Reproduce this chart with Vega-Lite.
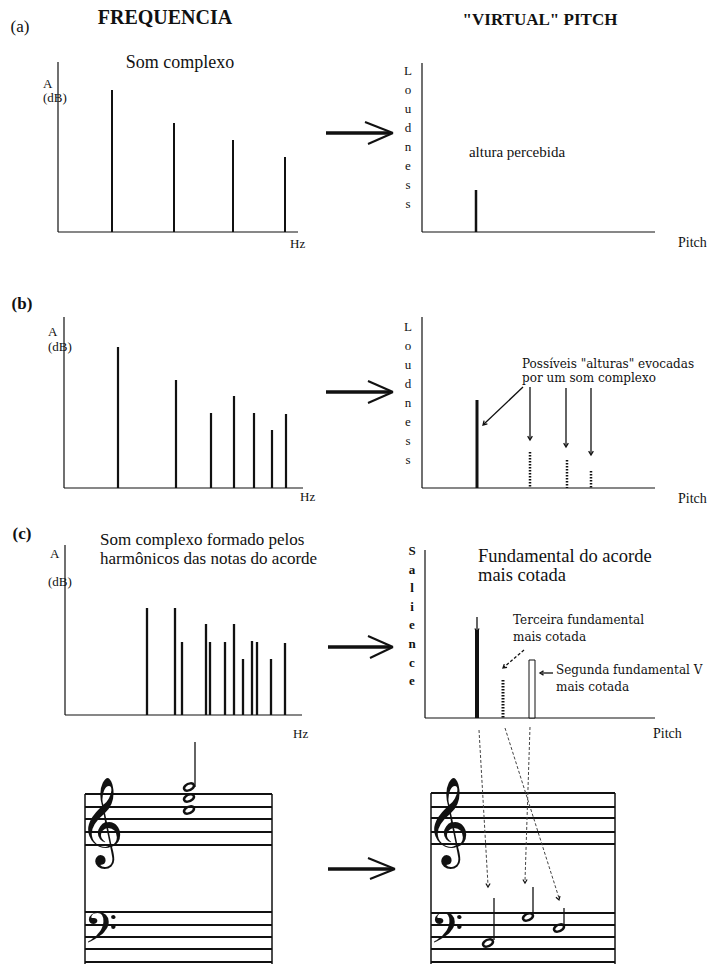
{
"$schema": "https://vega.github.io/schema/vega-lite/v6.json",
"background": "white",
"padding": 0,
"spacing": 0,
"columns": 2,
"align": "each",
"bounds": "flush",
"config": {"view": {"stroke": null}, "text": {"font": "Liberation Serif", "color": "#111"}, "rule": {"color": "#111"}, "point": {"color": "#111"}},
"concat": [
 {"width": 355, "height": 250,
  "data": {"values": [
   {"role":"axis","f":0,"a":0,"f2":0,"a2":170},
   {"role":"axis","f":0,"a":0,"f2":240,"a2":0},
   {"role":"partial","f":54,"a":142},
   {"role":"partial","f":116,"a":109},
   {"role":"partial","f":175,"a":92},
   {"role":"partial","f":227,"a":75},
   {"role":"arrow","f":268,"a":99,"f2":333,"a2":99},
   {"role":"arrowhead","f":307,"a":110,"f2":335,"a2":99},
   {"role":"arrowhead","f":310,"a":88,"f2":335,"a2":99},
   {"role":"heading","f":107,"a":214,"label":"FREQUENCIA"},
   {"role":"tag","f":-38,"a":205,"label":"(a)"},
   {"role":"caption","f":122,"a":169,"label":"Som complexo"},
   {"role":"label","f":-15,"a":148,"label":"A"},
   {"role":"label","f":-15,"a":134,"label":"(dB)"},
   {"role":"label","f":232,"a":-12,"label":"Hz"}
  ]},
  "encoding": {
   "x": {"field":"f","type":"quantitative","scale":{"domain":[-58,297],"nice":false,"zero":false},"axis":null},
   "y": {"field":"a","type":"quantitative","scale":{"domain":[-18,232],"nice":false,"zero":false},"axis":null}
  },
  "layer": [
   {"transform":[{"filter":"datum.role=='axis'"}],"mark":{"type":"rule","strokeWidth":1.2},"encoding":{"x2":{"field":"f2"},"y2":{"field":"a2"}}},
   {"transform":[{"filter":"datum.role=='partial'"}],"mark":{"type":"rule","strokeWidth":2},"encoding":{"y2":{"datum":0}}},
   {"transform":[{"filter":"datum.role=='arrow'"}],"mark":{"type":"rule","strokeWidth":3.5},"encoding":{"x2":{"field":"f2"},"y2":{"field":"a2"}}},
   {"transform":[{"filter":"datum.role=='arrowhead'"}],"mark":{"type":"rule","strokeWidth":2},"encoding":{"x2":{"field":"f2"},"y2":{"field":"a2"}}},
   {"transform":[{"filter":"datum.role=='heading'"}],"mark":{"type":"text","fontSize":20,"fontWeight":"bold"},"encoding":{"text":{"field":"label"}}},
   {"transform":[{"filter":"datum.role=='tag'"}],"mark":{"type":"text","fontSize":17},"encoding":{"text":{"field":"label"}}},
   {"transform":[{"filter":"datum.role=='caption'"}],"mark":{"type":"text","fontSize":18},"encoding":{"text":{"field":"label"}}},
   {"transform":[{"filter":"datum.role=='label'"}],"mark":{"type":"text","fontSize":13,"align":"left"},"encoding":{"text":{"field":"label"}}}
  ]
 },
 {"width": 356, "height": 250,
  "data": {"values": [
   {"role":"axis","f":0,"a":0,"f2":0,"a2":169},
   {"role":"axis","f":0,"a":0,"f2":233,"a2":0},
   {"role":"pitch","f":54,"a":42},
   {"role":"heading","f":118,"a":212,"label":"\"VIRTUAL\" PITCH"},
   {"role":"yname","f":-14,"a":167,"label":"L\no\nu\nd\nn\ne\ns\ns"},
   {"role":"caption","f":95,"a":80,"label":"altura percebida"},
   {"role":"label","f":256,"a":-11,"label":"Pitch"}
  ]},
  "encoding": {
   "x": {"field":"f","type":"quantitative","scale":{"domain":[-67,289],"nice":false,"zero":false},"axis":null},
   "y": {"field":"a","type":"quantitative","scale":{"domain":[-18,232],"nice":false,"zero":false},"axis":null}
  },
  "layer": [
   {"transform":[{"filter":"datum.role=='axis'"}],"mark":{"type":"rule","strokeWidth":1.2},"encoding":{"x2":{"field":"f2"},"y2":{"field":"a2"}}},
   {"transform":[{"filter":"datum.role=='pitch'"}],"mark":{"type":"rule","strokeWidth":2.5},"encoding":{"y2":{"datum":0}}},
   {"transform":[{"filter":"datum.role=='heading'"}],"mark":{"type":"text","fontSize":17,"fontWeight":"bold"},"encoding":{"text":{"field":"label"}}},
   {"transform":[{"filter":"datum.role=='yname'"}],"mark":{"type":"text","fontSize":13,"baseline":"top","lineBreak":"\n","lineHeight":19},"encoding":{"text":{"field":"label"}}},
   {"transform":[{"filter":"datum.role=='caption'"}],"mark":{"type":"text","fontSize":15},"encoding":{"text":{"field":"label"}}},
   {"transform":[{"filter":"datum.role=='label'"}],"mark":{"type":"text","fontSize":14,"align":"left"},"encoding":{"text":{"field":"label"}}}
  ]
 },
 {"width": 355, "height": 255,
  "data": {"values": [
   {"role":"axis","f":0,"a":0,"f2":0,"a2":171},
   {"role":"axis","f":0,"a":0,"f2":239,"a2":0},
   {"role":"partial","f":54,"a":141},
   {"role":"partial","f":112,"a":108},
   {"role":"partial","f":147,"a":75},
   {"role":"partial","f":170,"a":92},
   {"role":"partial","f":190,"a":75},
   {"role":"partial","f":208,"a":58},
   {"role":"partial","f":222,"a":74},
   {"role":"arrow","f":262,"a":96,"f2":327,"a2":96},
   {"role":"arrowhead","f":304,"a":107,"f2":329,"a2":96},
   {"role":"arrowhead","f":304,"a":85,"f2":329,"a2":96},
   {"role":"tag","f":-42,"a":184,"label":"(b)"},
   {"role":"label","f":-16,"a":156,"label":"A"},
   {"role":"label","f":-16,"a":141,"label":"(dB)"},
   {"role":"label","f":236,"a":-9,"label":"Hz"}
  ]},
  "encoding": {
   "x": {"field":"f","type":"quantitative","scale":{"domain":[-64,291],"nice":false,"zero":false},"axis":null},
   "y": {"field":"a","type":"quantitative","scale":{"domain":[-17,238],"nice":false,"zero":false},"axis":null}
  },
  "layer": [
   {"transform":[{"filter":"datum.role=='axis'"}],"mark":{"type":"rule","strokeWidth":1.2},"encoding":{"x2":{"field":"f2"},"y2":{"field":"a2"}}},
   {"transform":[{"filter":"datum.role=='partial'"}],"mark":{"type":"rule","strokeWidth":2.2},"encoding":{"y2":{"datum":0}}},
   {"transform":[{"filter":"datum.role=='arrow'"}],"mark":{"type":"rule","strokeWidth":3.5},"encoding":{"x2":{"field":"f2"},"y2":{"field":"a2"}}},
   {"transform":[{"filter":"datum.role=='arrowhead'"}],"mark":{"type":"rule","strokeWidth":2},"encoding":{"x2":{"field":"f2"},"y2":{"field":"a2"}}},
   {"transform":[{"filter":"datum.role=='tag'"}],"mark":{"type":"text","fontSize":17,"fontWeight":"bold"},"encoding":{"text":{"field":"label"}}},
   {"transform":[{"filter":"datum.role=='label'"}],"mark":{"type":"text","fontSize":13,"align":"left"},"encoding":{"text":{"field":"label"}}}
  ]
 },
 {"width": 356, "height": 255,
  "data": {"values": [
   {"role":"axis","f":0,"a":0,"f2":0,"a2":171},
   {"role":"axis","f":0,"a":0,"f2":233,"a2":0},
   {"role":"pitch","f":55,"a":88},
   {"role":"candidate","f":108,"a":36},
   {"role":"candidate","f":145,"a":28},
   {"role":"candidate","f":169,"a":17},
   {"role":"pointer","f":101,"a":101,"f2":62,"a2":64},
   {"role":"pointer","f":108,"a":101,"f2":108,"a2":49},
   {"role":"pointer","f":144,"a":100,"f2":144,"a2":42},
   {"role":"pointer","f":169,"a":100,"f2":169,"a2":34},
   {"role":"tipdown","f":108,"a":48},
   {"role":"tipdown","f":144,"a":41},
   {"role":"tipdown","f":169,"a":33},
   {"role":"tipdiag","f":61,"a":63},
   {"role":"yname","f":-14,"a":167,"label":"L\no\nu\nd\nn\ne\ns\ns"},
   {"role":"note","f":100,"a":129,"label":"Possíveis \"alturas\" evocadas\npor um som complexo"},
   {"role":"label","f":256,"a":-11,"label":"Pitch"}
  ]},
  "encoding": {
   "x": {"field":"f","type":"quantitative","scale":{"domain":[-67,289],"nice":false,"zero":false},"axis":null},
   "y": {"field":"a","type":"quantitative","scale":{"domain":[-17,238],"nice":false,"zero":false},"axis":null}
  },
  "layer": [
   {"transform":[{"filter":"datum.role=='axis'"}],"mark":{"type":"rule","strokeWidth":1.2},"encoding":{"x2":{"field":"f2"},"y2":{"field":"a2"}}},
   {"transform":[{"filter":"datum.role=='pitch'"}],"mark":{"type":"rule","strokeWidth":3},"encoding":{"y2":{"datum":0}}},
   {"transform":[{"filter":"datum.role=='candidate'"}],"mark":{"type":"rule","strokeWidth":2.5,"strokeDash":[1.5,1.5]},"encoding":{"y2":{"datum":0}}},
   {"transform":[{"filter":"datum.role=='pointer'"}],"mark":{"type":"rule","strokeWidth":1.3},"encoding":{"x2":{"field":"f2"},"y2":{"field":"a2"}}},
   {"transform":[{"filter":"datum.role=='tipdown'"}],"mark":{"type":"point","shape":"M -0.6 -1 L 0 0 L 0.6 -1","filled":false,"size":60,"strokeWidth":1.3,"opacity":1}},
   {"transform":[{"filter":"datum.role=='tipdiag'"}],"mark":{"type":"point","shape":"M -0.6 -1 L 0 0 L 0.6 -1","filled":false,"size":60,"strokeWidth":1.3,"opacity":1,"angle":45}},
   {"transform":[{"filter":"datum.role=='yname'"}],"mark":{"type":"text","fontSize":13,"baseline":"top","lineBreak":"\n","lineHeight":19},"encoding":{"text":{"field":"label"}}},
   {"transform":[{"filter":"datum.role=='note'"}],"mark":{"type":"text","font":"DejaVu Serif","fontSize":12,"align":"left","baseline":"top","lineBreak":"\n","lineHeight":14},"encoding":{"text":{"field":"label"}}},
   {"transform":[{"filter":"datum.role=='label'"}],"mark":{"type":"text","fontSize":14,"align":"left"},"encoding":{"text":{"field":"label"}}}
  ]
 },
 {"width": 355, "height": 240,
  "data": {"values": [
   {"role":"axis","f":0,"a":0,"f2":0,"a2":170},
   {"role":"axis","f":0,"a":0,"f2":237,"a2":0},
   {"role":"partial","f":82,"a":107},
   {"role":"partial","f":110,"a":107},
   {"role":"partial","f":117,"a":73},
   {"role":"partial","f":141,"a":91},
   {"role":"partial","f":145,"a":73},
   {"role":"partial","f":160,"a":73},
   {"role":"partial","f":169,"a":91},
   {"role":"partial","f":178,"a":56},
   {"role":"partial","f":187,"a":74},
   {"role":"partial","f":192,"a":73},
   {"role":"partial","f":206,"a":56},
   {"role":"partial","f":220,"a":72},
   {"role":"arrow","f":263,"a":68,"f2":326,"a2":68},
   {"role":"arrowhead","f":303,"a":79,"f2":328,"a2":68},
   {"role":"arrowhead","f":305,"a":57,"f2":328,"a2":68},
   {"role":"tag","f":-43,"a":181,"label":"(c)"},
   {"role":"label","f":-15,"a":161,"label":"A"},
   {"role":"label","f":-17,"a":133,"label":"(dB)"},
   {"role":"label","f":228,"a":-19,"label":"Hz"},
   {"role":"caption","f":35,"a":183,"label":"Som complexo formado pelos\nharmônicos das notas do acorde"}
  ]},
  "encoding": {
   "x": {"field":"f","type":"quantitative","scale":{"domain":[-65,290],"nice":false,"zero":false},"axis":null},
   "y": {"field":"a","type":"quantitative","scale":{"domain":[-30,210],"nice":false,"zero":false},"axis":null}
  },
  "layer": [
   {"transform":[{"filter":"datum.role=='axis'"}],"mark":{"type":"rule","strokeWidth":1.2},"encoding":{"x2":{"field":"f2"},"y2":{"field":"a2"}}},
   {"transform":[{"filter":"datum.role=='partial'"}],"mark":{"type":"rule","strokeWidth":2.3},"encoding":{"y2":{"datum":0}}},
   {"transform":[{"filter":"datum.role=='arrow'"}],"mark":{"type":"rule","strokeWidth":3.5},"encoding":{"x2":{"field":"f2"},"y2":{"field":"a2"}}},
   {"transform":[{"filter":"datum.role=='arrowhead'"}],"mark":{"type":"rule","strokeWidth":2},"encoding":{"x2":{"field":"f2"},"y2":{"field":"a2"}}},
   {"transform":[{"filter":"datum.role=='tag'"}],"mark":{"type":"text","fontSize":17,"fontWeight":"bold"},"encoding":{"text":{"field":"label"}}},
   {"transform":[{"filter":"datum.role=='label'"}],"mark":{"type":"text","fontSize":13,"align":"left"},"encoding":{"text":{"field":"label"}}},
   {"transform":[{"filter":"datum.role=='caption'"}],"mark":{"type":"text","fontSize":17,"align":"left","baseline":"top","lineBreak":"\n","lineHeight":19},"encoding":{"text":{"field":"label"}}}
  ]
 },
 {"width": 356, "height": 240,
  "data": {"values": [
   {"role":"axis","f":0,"a":0,"f2":0,"a2":168},
   {"role":"axis","f":0,"a":0,"f2":230,"a2":0},
   {"role":"pitch","f":52,"a":88},
   {"role":"candidate","f":78,"a":38},
   {"role":"hollow","f":104,"f2":110,"a":58,"a2":0},
   {"role":"pointer","f":52,"a":101,"f2":52,"a2":87},
   {"role":"dashpointer","f":99,"a":68,"f2":79,"a2":51},
   {"role":"pointer","f":128,"a":45,"f2":117,"a2":45},
   {"role":"tipdown","f":52,"a":86},
   {"role":"tipdiag","f":78,"a":50},
   {"role":"tipleft","f":115,"a":45},
   {"role":"yname","f":-13,"a":173,"label":"S\na\nl\ni\ne\nn\nc\ne"},
   {"role":"caption","f":53,"a":171,"label":"Fundamental do acorde\nmais cotada"},
   {"role":"note","f":88,"a":103,"label":"Terceira fundamental\nmais cotada"},
   {"role":"note","f":131,"a":53,"label":"Segunda fundamental V\nmais cotada"},
   {"role":"label","f":228,"a":-16,"label":"Pitch"}
  ]},
  "encoding": {
   "x": {"field":"f","type":"quantitative","scale":{"domain":[-70,286],"nice":false,"zero":false},"axis":null},
   "y": {"field":"a","type":"quantitative","scale":{"domain":[-27,213],"nice":false,"zero":false},"axis":null}
  },
  "layer": [
   {"transform":[{"filter":"datum.role=='axis'"}],"mark":{"type":"rule","strokeWidth":1.2},"encoding":{"x2":{"field":"f2"},"y2":{"field":"a2"}}},
   {"transform":[{"filter":"datum.role=='pitch'"}],"mark":{"type":"rule","strokeWidth":4},"encoding":{"y2":{"datum":0}}},
   {"transform":[{"filter":"datum.role=='candidate'"}],"mark":{"type":"rule","strokeWidth":3,"strokeDash":[1.5,1.5]},"encoding":{"y2":{"datum":0}}},
   {"transform":[{"filter":"datum.role=='hollow'"}],"mark":{"type":"rect","fill":"white","stroke":"#111","strokeWidth":1},"encoding":{"x2":{"field":"f2"},"y2":{"field":"a2"}}},
   {"transform":[{"filter":"datum.role=='pointer'"}],"mark":{"type":"rule","strokeWidth":1.3},"encoding":{"x2":{"field":"f2"},"y2":{"field":"a2"}}},
   {"transform":[{"filter":"datum.role=='dashpointer'"}],"mark":{"type":"rule","strokeWidth":1.3,"strokeDash":[3,2]},"encoding":{"x2":{"field":"f2"},"y2":{"field":"a2"}}},
   {"transform":[{"filter":"datum.role=='tipdown'"}],"mark":{"type":"point","shape":"M -0.6 -1 L 0 0 L 0.6 -1","filled":false,"size":50,"strokeWidth":1.3,"opacity":1}},
   {"transform":[{"filter":"datum.role=='tipdiag'"}],"mark":{"type":"point","shape":"M -0.6 -1 L 0 0 L 0.6 -1","filled":false,"size":50,"strokeWidth":1.3,"opacity":1,"angle":49}},
   {"transform":[{"filter":"datum.role=='tipleft'"}],"mark":{"type":"point","shape":"M -0.6 -1 L 0 0 L 0.6 -1","filled":false,"size":50,"strokeWidth":1.3,"opacity":1,"angle":90}},
   {"transform":[{"filter":"datum.role=='yname'"}],"mark":{"type":"text","fontSize":13,"fontWeight":"bold","baseline":"top","lineBreak":"\n","lineHeight":18.6},"encoding":{"text":{"field":"label"}}},
   {"transform":[{"filter":"datum.role=='caption'"}],"mark":{"type":"text","fontSize":18.5,"align":"left","baseline":"top","lineBreak":"\n","lineHeight":19},"encoding":{"text":{"field":"label"}}},
   {"transform":[{"filter":"datum.role=='note'"}],"mark":{"type":"text","font":"DejaVu Serif","fontSize":12,"align":"left","baseline":"top","lineBreak":"\n","lineHeight":17},"encoding":{"text":{"field":"label"}}},
   {"transform":[{"filter":"datum.role=='label'"}],"mark":{"type":"text","fontSize":14,"align":"left"},"encoding":{"text":{"field":"label"}}}
  ]
 },
 {"width": 355, "height": 219,
  "data": {"values": [
   {"role":"staff","f":85,"f2":272,"a":170,"a2":170},
   {"role":"staff","f":85,"f2":272,"a":157,"a2":157},
   {"role":"staff","f":85,"f2":272,"a":145,"a2":145},
   {"role":"staff","f":85,"f2":272,"a":132,"a2":132},
   {"role":"staff","f":85,"f2":272,"a":119,"a2":119},
   {"role":"staff","f":85,"f2":272,"a":52,"a2":52},
   {"role":"staff","f":85,"f2":272,"a":39,"a2":39},
   {"role":"staff","f":85,"f2":272,"a":27,"a2":27},
   {"role":"staff","f":85,"f2":272,"a":15,"a2":15},
   {"role":"staff","f":85,"f2":272,"a":2,"a2":2},
   {"role":"frame","f":85,"f2":85,"a":0,"a2":170},
   {"role":"frame","f":272,"f2":272,"a":0,"a2":170},
   {"role":"stem","f":195,"f2":195,"a":177,"a2":222},
   {"role":"head","f":189,"a":177},
   {"role":"head","f":189,"a":166},
   {"role":"head","f":189,"a":154},
   {"role":"treble","f":101,"a":140,"label":"𝄞"},
   {"role":"bass","f":100,"a":29,"label":"𝄢"},
   {"role":"arrow","f":328,"a":95,"f2":392,"a2":95},
   {"role":"arrowhead","f":368,"a":106,"f2":395,"a2":95},
   {"role":"arrowhead","f":370,"a":85,"f2":395,"a2":95}
  ]},
  "encoding": {
   "x": {"field":"f","type":"quantitative","scale":{"domain":[0,355],"nice":false,"zero":false},"axis":null},
   "y": {"field":"a","type":"quantitative","scale":{"domain":[0,219],"nice":false,"zero":false},"axis":null}
  },
  "layer": [
   {"transform":[{"filter":"datum.role=='staff'"}],"mark":{"type":"rule","strokeWidth":2},"encoding":{"x2":{"field":"f2"},"y2":{"field":"a2"}}},
   {"transform":[{"filter":"datum.role=='frame'"}],"mark":{"type":"rule","strokeWidth":1.5},"encoding":{"x2":{"field":"f2"},"y2":{"field":"a2"}}},
   {"transform":[{"filter":"datum.role=='stem'"}],"mark":{"type":"rule","strokeWidth":1.3},"encoding":{"x2":{"field":"f2"},"y2":{"field":"a2"}}},
   {"transform":[{"filter":"datum.role=='head'"}],"mark":{"type":"point","shape":"M -0.906 0.423 A 1 0.6 -25 1 1 0.906 -0.423 A 1 0.6 -25 1 1 -0.906 0.423 Z","filled":false,"size":110,"strokeWidth":2.5,"opacity":1}},
   {"transform":[{"filter":"datum.role=='treble'"}],"mark":{"type":"text","font":"DejaVu Sans","fontSize":76},"encoding":{"text":{"field":"label"}}},
   {"transform":[{"filter":"datum.role=='bass'"}],"mark":{"type":"text","font":"DejaVu Sans","fontSize":52},"encoding":{"text":{"field":"label"}}},
   {"transform":[{"filter":"datum.role=='arrow'"}],"mark":{"type":"rule","strokeWidth":3.5},"encoding":{"x2":{"field":"f2"},"y2":{"field":"a2"}}},
   {"transform":[{"filter":"datum.role=='arrowhead'"}],"mark":{"type":"rule","strokeWidth":2},"encoding":{"x2":{"field":"f2"},"y2":{"field":"a2"}}}
  ]
 },
 {"width": 356, "height": 219,
  "data": {"values": [
   {"role":"staff","f":431,"f2":615,"a":171,"a2":171},
   {"role":"staff","f":431,"f2":615,"a":157,"a2":157},
   {"role":"staff","f":431,"f2":615,"a":146,"a2":146},
   {"role":"staff","f":431,"f2":615,"a":132,"a2":132},
   {"role":"staff","f":431,"f2":615,"a":120,"a2":120},
   {"role":"staff","f":431,"f2":615,"a":51,"a2":51},
   {"role":"staff","f":431,"f2":615,"a":39,"a2":39},
   {"role":"staff","f":431,"f2":615,"a":27,"a2":27},
   {"role":"staff","f":431,"f2":615,"a":15,"a2":15},
   {"role":"staff","f":431,"f2":615,"a":2,"a2":2},
   {"role":"frame","f":431,"f2":431,"a":0,"a2":171},
   {"role":"frame","f":615,"f2":615,"a":0,"a2":171},
   {"role":"stem","f":494,"f2":494,"a":24,"a2":66},
   {"role":"stem","f":533,"f2":533,"a":50,"a2":77},
   {"role":"stem","f":564,"f2":564,"a":39,"a2":56},
   {"role":"head","f":488,"a":21},
   {"role":"head","f":528,"a":47},
   {"role":"head","f":559,"a":36},
   {"role":"guide","f":479,"a":234,"f2":488,"a2":79},
   {"role":"guide","f":530,"a":237,"f2":525,"a2":83},
   {"role":"guide","f":505,"a":236,"f2":559,"a2":66},
   {"role":"tipdown","f":488,"a":77},
   {"role":"tipdown","f":525,"a":81},
   {"role":"tipskew","f":559,"a":64},
   {"role":"treble","f":447,"a":140,"label":"𝄞"},
   {"role":"bass","f":446,"a":29,"label":"𝄢"}
  ]},
  "encoding": {
   "x": {"field":"f","type":"quantitative","scale":{"domain":[355,711],"nice":false,"zero":false},"axis":null},
   "y": {"field":"a","type":"quantitative","scale":{"domain":[0,219],"nice":false,"zero":false},"axis":null}
  },
  "layer": [
   {"transform":[{"filter":"datum.role=='staff'"}],"mark":{"type":"rule","strokeWidth":2},"encoding":{"x2":{"field":"f2"},"y2":{"field":"a2"}}},
   {"transform":[{"filter":"datum.role=='frame'"}],"mark":{"type":"rule","strokeWidth":1.5},"encoding":{"x2":{"field":"f2"},"y2":{"field":"a2"}}},
   {"transform":[{"filter":"datum.role=='stem'"}],"mark":{"type":"rule","strokeWidth":1.3},"encoding":{"x2":{"field":"f2"},"y2":{"field":"a2"}}},
   {"transform":[{"filter":"datum.role=='guide'"}],"mark":{"type":"rule","strokeWidth":1,"color":"#444","strokeDash":[3,2]},"encoding":{"x2":{"field":"f2"},"y2":{"field":"a2"}}},
   {"transform":[{"filter":"datum.role=='tipdown'"}],"mark":{"type":"point","shape":"M -0.6 -1 L 0 0 L 0.6 -1","filled":false,"size":50,"strokeWidth":1.2,"opacity":1}},
   {"transform":[{"filter":"datum.role=='tipskew'"}],"mark":{"type":"point","shape":"M -0.6 -1 L 0 0 L 0.6 -1","filled":false,"size":50,"strokeWidth":1.2,"opacity":1,"angle":-17}},
   {"transform":[{"filter":"datum.role=='head'"}],"mark":{"type":"point","shape":"M -0.906 0.423 A 1 0.6 -25 1 1 0.906 -0.423 A 1 0.6 -25 1 1 -0.906 0.423 Z","filled":false,"size":110,"strokeWidth":2.5,"opacity":1}},
   {"transform":[{"filter":"datum.role=='treble'"}],"mark":{"type":"text","font":"DejaVu Sans","fontSize":76},"encoding":{"text":{"field":"label"}}},
   {"transform":[{"filter":"datum.role=='bass'"}],"mark":{"type":"text","font":"DejaVu Sans","fontSize":52},"encoding":{"text":{"field":"label"}}}
  ]
 }
]
}
